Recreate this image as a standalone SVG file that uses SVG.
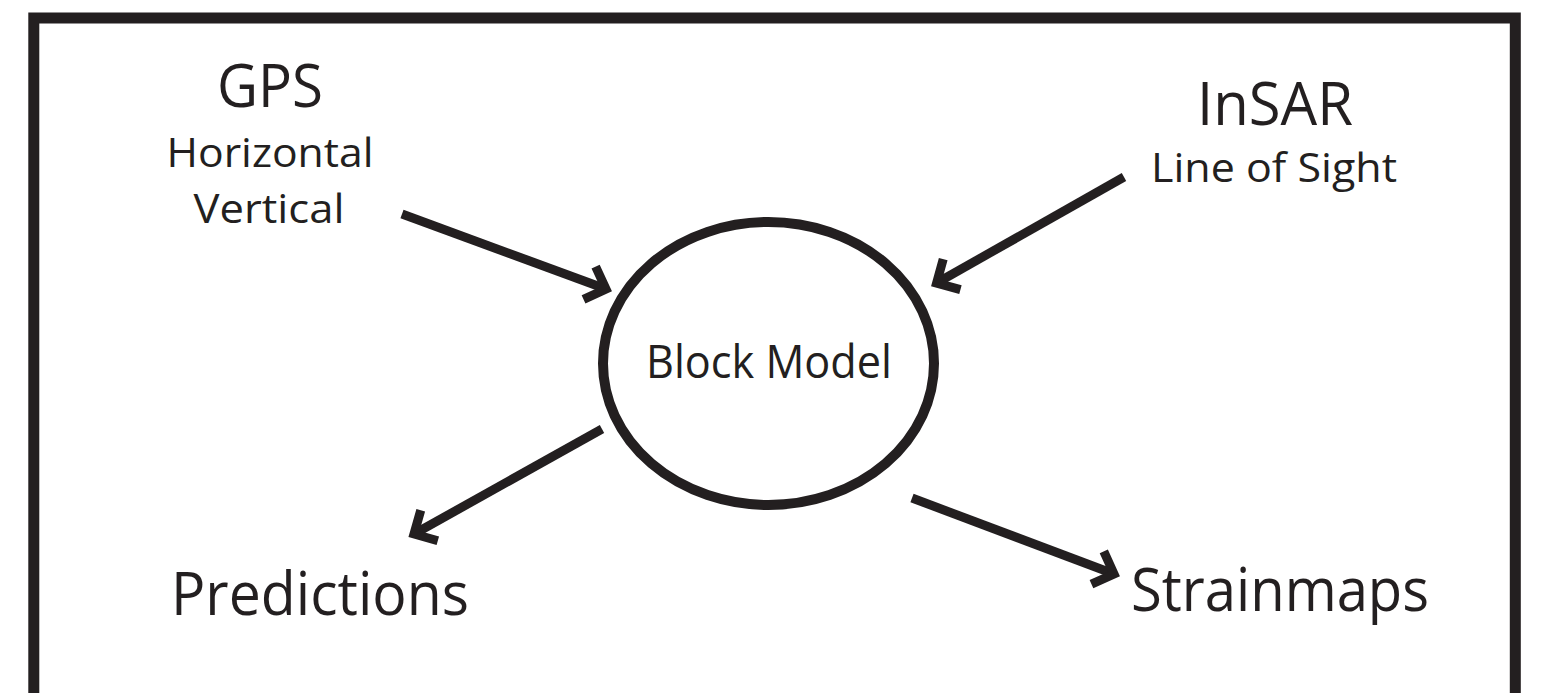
<svg xmlns="http://www.w3.org/2000/svg" width="1561" height="693" viewBox="0 0 1561 693">
<style>
.frame{fill:none;stroke:#231f20;stroke-width:11}
.node{fill:none;stroke:#231f20;stroke-width:10}
.conn{fill:none;stroke:#231f20;stroke-width:9;stroke-linecap:butt}
.t{font-family:"Open Sans","Liberation Sans",sans-serif;fill:#231f20;text-anchor:middle}
.big{font-size:60px}
.small{font-size:41px}
.mid{font-size:46px}
</style>
<defs>
<marker id="chev" markerUnits="userSpaceOnUse" markerWidth="60" markerHeight="60" refX="0" refY="0" viewBox="-30 -30 60 60" orient="auto" overflow="visible">
<path d="M -17.5 -17.5 L 0 0 L -17.5 17.5" fill="none" stroke="#231f20" stroke-width="9" stroke-linejoin="miter" stroke-miterlimit="10"/>
</marker>
</defs>
<rect class="frame" x="33.8" y="18" width="1481.5" height="700"/>
<g id="gps">
<text class="t big" x="270" y="107" textLength="106" lengthAdjust="spacingAndGlyphs">GPS</text>
<text class="t small" x="270" y="167" textLength="207" lengthAdjust="spacingAndGlyphs">Horizontal</text>
<text class="t small" x="269" y="223" textLength="151" lengthAdjust="spacingAndGlyphs">Vertical</text>
</g>
<g id="insar">
<text class="t big" x="1275" y="125" textLength="156" lengthAdjust="spacingAndGlyphs">InSAR</text>
<text class="t small" x="1274" y="182" textLength="246" lengthAdjust="spacingAndGlyphs">Line of Sight</text>
</g>
<g id="block-model">
<ellipse class="node" cx="768.5" cy="363.5" rx="165.5" ry="141.5"/>
<text class="t mid" x="769" y="378" textLength="246" lengthAdjust="spacingAndGlyphs">Block Model</text>
</g>
<g id="predictions">
<text class="t big" x="320" y="615" textLength="298" lengthAdjust="spacingAndGlyphs">Predictions</text>
</g>
<g id="strainmaps">
<text class="t big" x="1280" y="611" textLength="298" lengthAdjust="spacingAndGlyphs">Strainmaps</text>
</g>
<g id="connectors">
<line class="conn" x1="402" y1="214" x2="606" y2="289" marker-end="url(#chev)"/>
<line class="conn" x1="1124" y1="177" x2="936.6" y2="283" marker-end="url(#chev)"/>
<line class="conn" x1="602" y1="429" x2="414" y2="534" marker-end="url(#chev)"/>
<line class="conn" x1="912" y1="498" x2="1114" y2="574" marker-end="url(#chev)"/>
</g>
</svg>
